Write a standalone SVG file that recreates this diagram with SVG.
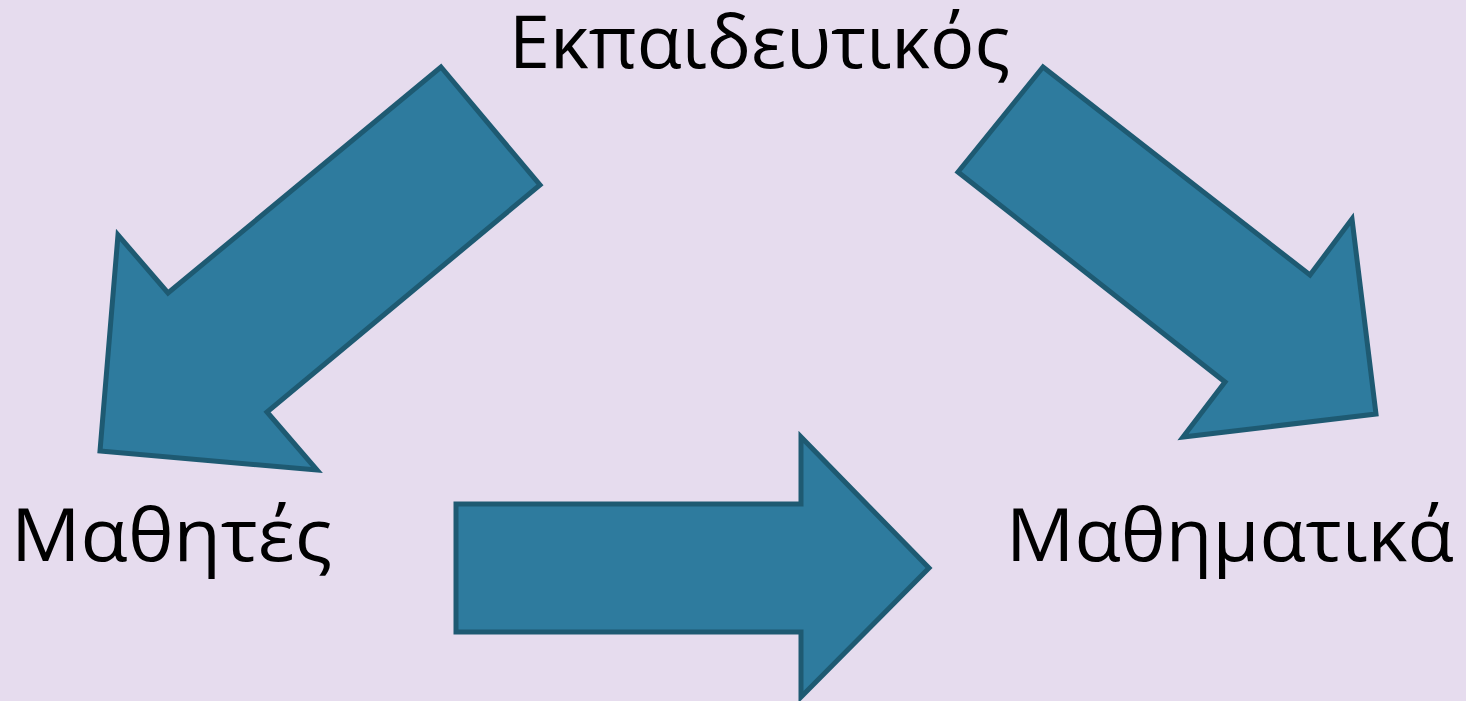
<svg xmlns="http://www.w3.org/2000/svg" width="1466" height="701" viewBox="0 0 1466 701">
  <style>
    .arrow { fill: #2E7B9E; stroke: #1E5A72; stroke-width: 5; stroke-linejoin: miter; }
    .label { font-family: "Open Sans", "Noto Sans", "DejaVu Sans", sans-serif; font-size: 74px; fill: #000000; }
  </style>
  <rect width="1466" height="701" fill="#E6DCEE"/>

  <g id="connectors">
    <!-- teacher to students -->
    <polygon class="arrow" points="441,67 540,185 267,412 317,470 100,451 118,235 168,293"/>
    <!-- teacher to mathematics -->
    <polygon class="arrow" points="1043,67 958,172 1225,382 1183,437 1376,414 1352,219 1310,275"/>
    <!-- students to mathematics -->
    <polygon class="arrow" points="456,504 801,504 801,437 929,568 801,697 801,632 456,632"/>
  </g>

  <g id="node-teacher">
    <text class="label" x="509" y="68" textLength="501" lengthAdjust="spacingAndGlyphs">Εκπαιδευτικός</text>
  </g>
  <g id="node-students">
    <text class="label" x="11" y="561" textLength="321" lengthAdjust="spacingAndGlyphs">Μαθητές</text>
  </g>
  <g id="node-mathematics">
    <text class="label" x="1006" y="561" textLength="448" lengthAdjust="spacingAndGlyphs">Μαθηματικά</text>
  </g>
</svg>
